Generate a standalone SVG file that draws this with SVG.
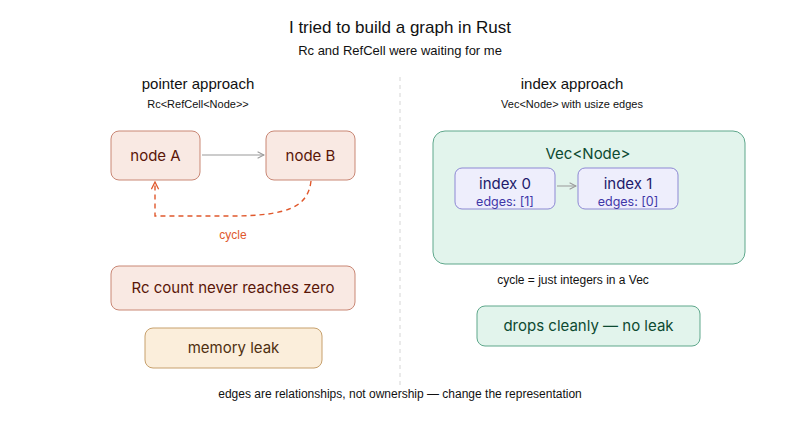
<svg xmlns="http://www.w3.org/2000/svg" width="800" height="444" viewBox="0 0 800 444">
<defs>
<style>
.t{font-family:"Liberation Sans",Arial,sans-serif;text-anchor:middle;fill:#111}
.n{font-family:Inter,"Noto Sans",sans-serif;text-anchor:middle;font-size:15px}
.s{font-family:Inter,"Noto Sans",sans-serif;text-anchor:middle;font-size:12.5px}
.red rect{fill:#f9e9e3;stroke:#c98775;stroke-width:1}
.red text{fill:#5a1608}
.amb rect{fill:#fbeedb;stroke:#c7a06c;stroke-width:1}
.amb text{fill:#4f3010}
.grn rect{fill:#e2f4ec;stroke:#5ea78b;stroke-width:1}
.grn text{fill:#0d4a31}
.pur rect{fill:#eeeefc;stroke:#8d88d4;stroke-width:1}
.pur text{fill:#221a6a}
.pur text.e{fill:#3f37a8}
</style>
<marker id="ag" viewBox="0 0 10 10" refX="9" refY="5" markerWidth="8" markerHeight="8" orient="auto" markerUnits="userSpaceOnUse"><path d="M1,1 L9,5 L1,9" fill="none" stroke="#999" stroke-width="1.3"/></marker>
<marker id="ao" viewBox="0 0 10 10" refX="9" refY="5" markerWidth="9" markerHeight="9" orient="auto" markerUnits="userSpaceOnUse"><path d="M1,1 L9,5 L1,9" fill="none" stroke="#e0582c" stroke-width="1.4"/></marker>
</defs>
<rect width="800" height="444" fill="#fff"/>
<text class="t" x="400" y="33" font-size="17">I tried to build a graph in Rust</text>
<text class="t" x="400" y="55" font-size="13" fill="#333">Rc and RefCell were waiting for me</text>
<line x1="400" y1="77" x2="400" y2="386" stroke="#e3e3e3" stroke-width="1.5" stroke-dasharray="4,4"/>
<text class="t" x="198" y="89" font-size="15">pointer approach</text>
<text class="t" x="198" y="108" font-size="11">Rc&lt;RefCell&lt;Node&gt;&gt;</text>
<text class="t" x="572" y="89" font-size="15">index approach</text>
<text class="t" x="572" y="108" font-size="11">Vec&lt;Node&gt; with usize edges</text>
<text x="233" y="239" font-family="Liberation Sans,Arial,sans-serif" font-size="12" text-anchor="middle" fill="#e0582c">cycle</text>
<g id="nodeA" class="red"><rect x="111" y="131" width="89" height="49" rx="8"/><text class="n" x="155.5" y="161">node A</text></g>
<g id="nodeB" class="red"><rect x="266" y="131" width="89" height="49" rx="8"/><text class="n" x="310.5" y="161">node B</text></g>
<g id="rccount" class="red"><rect x="111" y="266" width="244" height="44" rx="8"/><text class="n" x="233" y="293">Rc count never reaches zero</text></g>
<g id="leak" class="amb"><rect x="145" y="328" width="177" height="40" rx="8"/><text class="n" x="233.5" y="353">memory leak</text></g>
<g id="vec" class="grn"><rect x="433" y="131" width="312" height="133" rx="12"/><text class="n" x="588" y="159">Vec&lt;Node&gt;</text></g>
<g id="index0" class="pur"><rect x="455" y="168" width="100" height="41" rx="7"/><text class="n" x="505" y="189">index 0</text><text class="s e" x="505" y="206">edges: [1]</text></g>
<g id="index1" class="pur"><rect x="578" y="168" width="100" height="41" rx="7"/><text class="n" x="628" y="189">index 1</text><text class="s e" x="628" y="206">edges: [0]</text></g>
<text class="t" x="573" y="284" font-size="12">cycle = just integers in a Vec</text>
<g id="drops" class="grn"><rect x="477" y="306" width="223" height="40" rx="8"/><text class="n" x="588.5" y="331">drops cleanly — no leak</text></g>
<text class="t" x="400" y="398" font-size="12">edges are relationships, not ownership — change the representation</text>
<g id="connectors">
<line x1="202" y1="155" x2="264" y2="155" stroke="#999" stroke-width="1" marker-end="url(#ag)"/>
<path d="M311,181 C308,206 290,216 230,216 L155,216 L155,182" fill="none" stroke="#e0582c" stroke-width="1.4" stroke-dasharray="5,4" marker-end="url(#ao)"/>
<line x1="557" y1="186" x2="576" y2="186" stroke="#999" stroke-width="1" marker-end="url(#ag)"/>
</g>
</svg>
